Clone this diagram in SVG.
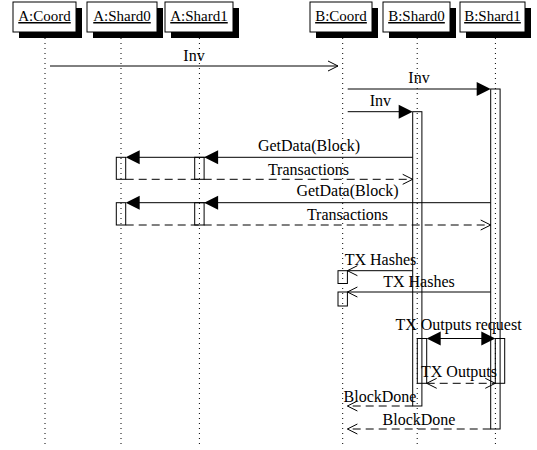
<svg xmlns="http://www.w3.org/2000/svg" width="537" height="450" viewBox="0 0 537 450">
<style>
.box{fill:#fff;stroke:#000;stroke-width:1}
.shadow{fill:#000}
.obj{font-family:"Liberation Serif","Times New Roman",serif;font-size:15px;text-anchor:middle;text-decoration:underline}
.life{stroke:#000;stroke-width:1;stroke-dasharray:1,4;fill:none}
.act{fill:none;stroke:#000;stroke-width:1}
.msg{stroke:#000;stroke-width:1;fill:none}
.dash{stroke-dasharray:8,5}
.lbl{font-family:"Liberation Serif","Times New Roman",serif;font-size:16px;text-anchor:middle}
.fill{fill:#000;stroke:none}
.open{fill:none;stroke:#000;stroke-width:1}
</style>
<rect width="537" height="450" fill="#fff"/>
<g id="lifelines">
<line class="life" x1="45" y1="38" x2="45" y2="447"/>
<line class="life" x1="121" y1="38" x2="121" y2="447"/>
<line class="life" x1="199.4" y1="38" x2="199.4" y2="447"/>
<line class="life" x1="342.7" y1="38" x2="342.7" y2="447"/>
<line class="life" x1="417.2" y1="38" x2="417.2" y2="447"/>
<line class="life" x1="495.4" y1="38" x2="495.4" y2="447"/>
</g>
<g id="A_Coord">
<rect class="shadow" x="19" y="8" width="63" height="30"/>
<rect class="box" x="13" y="2" width="63" height="30"/>
<text class="obj" x="44.5" y="21">A:Coord</text>
</g>
<g id="A_Shard0">
<rect class="shadow" x="93" y="8" width="70" height="30"/>
<rect class="box" x="87" y="2" width="70" height="30"/>
<text class="obj" x="122" y="21">A:Shard0</text>
</g>
<g id="A_Shard1">
<rect class="shadow" x="171" y="8" width="68" height="30"/>
<rect class="box" x="165" y="2" width="68" height="30"/>
<text class="obj" x="199" y="21">A:Shard1</text>
</g>
<g id="B_Coord">
<rect class="shadow" x="316" y="8" width="62" height="30"/>
<rect class="box" x="310" y="2" width="62" height="30"/>
<text class="obj" x="341" y="21">B:Coord</text>
</g>
<g id="B_Shard0">
<rect class="shadow" x="389" y="8" width="67" height="30"/>
<rect class="box" x="383" y="2" width="67" height="30"/>
<text class="obj" x="416.5" y="21">B:Shard0</text>
</g>
<g id="B_Shard1">
<rect class="shadow" x="466" y="8" width="65" height="30"/>
<rect class="box" x="460" y="2" width="65" height="30"/>
<text class="obj" x="492.5" y="21">B:Shard1</text>
</g>
<g id="activations">
<rect class="act" x="116.3" y="157.3" width="9.4" height="22"/>
<rect class="act" x="194.7" y="157.3" width="9.4" height="22"/>
<rect class="act" x="116.3" y="202.7" width="9.4" height="22.3"/>
<rect class="act" x="194.7" y="202.7" width="9.4" height="22.3"/>
<rect class="act" x="338" y="270.7" width="9.4" height="12.8"/>
<rect class="act" x="338" y="292" width="9.4" height="14"/>
<rect class="act" x="412.7" y="111.7" width="9.2" height="294.3"/>
<rect class="act" x="417.3" y="338.5" width="9.4" height="44.8"/>
<rect class="act" x="490.7" y="89" width="9.4" height="340"/>
<rect class="act" x="495.3" y="338.5" width="9.4" height="44.8"/>
</g>
<g id="connectors">
<line class="msg" x1="50" y1="66" x2="338" y2="66"/>
<polyline class="open" points="328,61 338,66 328,71"/>
<text class="lbl" x="194" y="60.5">Inv</text>

<line class="msg" x1="347.7" y1="89" x2="480" y2="89"/>
<polygon class="fill" points="476.7,82 490.7,89 476.7,96"/>
<text class="lbl" x="419" y="83.3">Inv</text>

<line class="msg" x1="347.7" y1="111.7" x2="402" y2="111.7"/>
<polygon class="fill" points="398.7,104.7 412.7,111.7 398.7,118.7"/>
<text class="lbl" x="380.3" y="106">Inv</text>

<line class="msg" x1="412.7" y1="157.3" x2="136" y2="157.3"/>
<polygon class="fill" points="218.1,150.3 204.1,157.3 218.1,164.3"/>
<polygon class="fill" points="139.7,150.3 125.7,157.3 139.7,164.3"/>
<text class="lbl" x="309" y="151">GetData(Block)</text>

<line class="msg dash" x1="125.7" y1="179.3" x2="412.7" y2="179.3"/>
<polyline class="open" points="402.7,174.3 412.7,179.3 402.7,184.3"/>
<text class="lbl" x="308.5" y="175">Transactions</text>

<line class="msg" x1="490.7" y1="202.7" x2="136" y2="202.7"/>
<polygon class="fill" points="218.1,195.7 204.1,202.7 218.1,209.7"/>
<polygon class="fill" points="139.7,195.7 125.7,202.7 139.7,209.7"/>
<text class="lbl" x="347.5" y="196">GetData(Block)</text>

<line class="msg dash" x1="125.7" y1="225" x2="490.7" y2="225"/>
<polyline class="open" points="480.7,220 490.7,225 480.7,230"/>
<text class="lbl" x="347.5" y="220">Transactions</text>

<line class="msg" x1="412.7" y1="270.7" x2="347.4" y2="270.7"/>
<polyline class="open" points="357.4,265.7 347.4,270.7 357.4,275.7"/>
<text class="lbl" x="380.5" y="265">TX Hashes</text>

<line class="msg" x1="490.7" y1="292" x2="347.4" y2="292"/>
<polyline class="open" points="357.4,287 347.4,292 357.4,297"/>
<text class="lbl" x="419" y="287">TX Hashes</text>

<line class="msg" x1="436" y1="338.5" x2="486" y2="338.5"/>
<polygon class="fill" points="440.7,331.5 426.7,338.5 440.7,345.5"/>
<polygon class="fill" points="481.3,331.5 495.3,338.5 481.3,345.5"/>
<text class="lbl" x="458.5" y="329.5">TX Outputs request</text>

<line class="msg dash" x1="426.7" y1="383.3" x2="495.3" y2="383.3"/>
<polyline class="open" points="436.7,378.3 426.7,383.3 436.7,388.3"/>
<polyline class="open" points="485.3,378.3 495.3,383.3 485.3,388.3"/>
<text class="lbl" x="459" y="376.5">TX Outputs</text>

<line class="msg dash" x1="412.7" y1="406" x2="347.4" y2="406"/>
<polyline class="open" points="357.4,401 347.4,406 357.4,411"/>
<text class="lbl" x="380" y="401.5">BlockDone</text>

<line class="msg dash" x1="490.7" y1="429" x2="347.4" y2="429"/>
<polyline class="open" points="357.4,424 347.4,429 357.4,434"/>
<text class="lbl" x="419" y="424.5">BlockDone</text>
</g>
</svg>
